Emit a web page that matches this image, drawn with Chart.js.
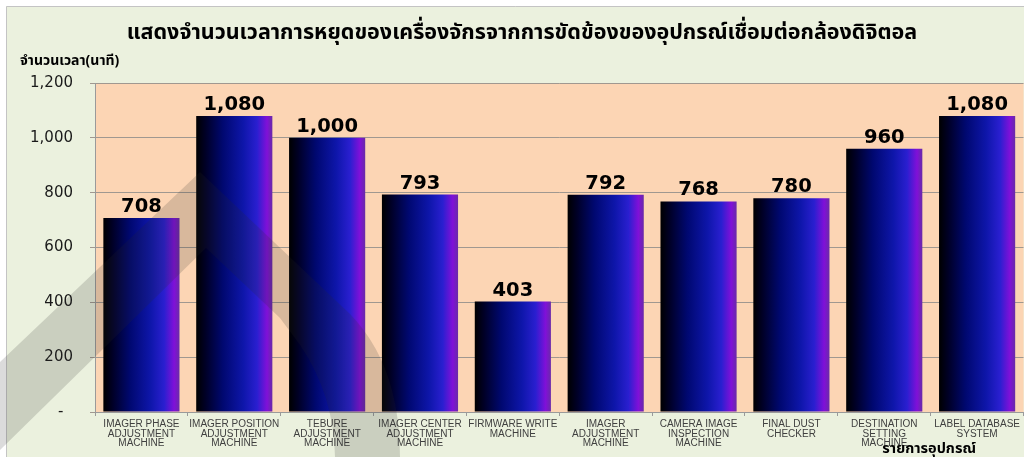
<!DOCTYPE html>
<html>
<head>
<meta charset="utf-8">
<script src="https://cdn.jsdelivr.net/npm/chart.js@4/dist/chart.umd.min.js"></script>
<style>
html,body{margin:0;padding:0;background:#fff;}
#wrap{width:1024px;height:457px;position:relative;}
</style>
</head>
<body>
<div id="wrap"><canvas id="c" width="1024" height="457"></canvas></div>
<script>
// ---- data ----
const chartTitle = "แสดงจำนวนเวลาการหยุดของเครื่องจักรจากการขัดข้องของอุปกรณ์เชื่อมต่อกล้องดิจิตอล";
const yAxisTitle = "จำนวนเวลา(นาที)";
const xAxisTitle = "รายการอุปกรณ์";
const categories = [
  ["IMAGER PHASE", "ADJUSTMENT", "MACHINE"],
  ["IMAGER POSITION", "ADJUSTMENT", "MACHINE"],
  ["TEBURE", "ADJUSTMENT", "MACHINE"],
  ["IMAGER CENTER", "ADJUSTMENT", "MACHINE"],
  ["FIRMWARE WRITE", "MACHINE"],
  ["IMAGER", "ADJUSTMENT", "MACHINE"],
  ["CAMERA IMAGE", "INSPECTION", "MACHINE"],
  ["FINAL DUST", "CHECKER"],
  ["DESTINATION", "SETTING", "MACHINE"],
  ["LABEL DATABASE", "SYSTEM"]
];
const downtimeMinutes = [708, 1080, 1000, 793, 403, 792, 768, 780, 960, 1080];
const yMin = 0, yMax = 1200, yStep = 200;

const BAR_PCT = 0.82;
const thaiFont = "Tahoma, 'Noto Sans Thai', 'Noto Sans', 'DejaVu Sans', sans-serif";

function fmt(v){ return v.toLocaleString('en-US'); }

function barGradient(ctx){
  const chart = ctx.chart;
  const xs = chart.scales.x;
  if (!xs || !chart.chartArea) return '#1a1ab0';
  const i = ctx.dataIndex;
  const cx = xs.getPixelForValue(i);
  const half = (xs.width / categories.length) * BAR_PCT / 2;
  const g = chart.ctx.createLinearGradient(cx - half, 0, cx + half, 0);
  g.addColorStop(0, '#000000');
  g.addColorStop(0.12, '#000026');
  g.addColorStop(0.35, '#000870');
  g.addColorStop(0.62, '#0e16aa');
  g.addColorStop(0.8, '#2a1fd0');
  g.addColorStop(0.93, '#8010d8');
  g.addColorStop(1, '#6a2aa8');
  return g;
}

const bgPlugin = {
  id: 'bg',
  beforeDraw(chart){
    const c = chart.ctx, a = chart.chartArea;
    c.save();
    c.fillStyle = '#ffffff';
    c.fillRect(0, 0, chart.width, chart.height);
    c.fillStyle = '#ebf1de';
    c.fillRect(6, 6, chart.width - 6, chart.height - 6);
    c.strokeStyle = '#c4c4c4';
    c.lineWidth = 1;
    c.beginPath();
    c.moveTo(6.5, chart.height); c.lineTo(6.5, 6.5); c.lineTo(chart.width, 6.5);
    c.stroke();
    c.fillStyle = '#fcd5b4';
    c.fillRect(a.left, a.top, a.right - a.left, a.bottom - a.top);
    c.restore();
  }
};

const labelPlugin = {
  id: 'labels',
  afterDatasetsDraw(chart){
    const c = chart.ctx;
    const meta = chart.getDatasetMeta(0);
    c.save();
    c.fillStyle = '#000000';
    c.font = "bold 19.5px 'DejaVu Sans', Arial, sans-serif";
    c.textAlign = 'center';
    c.textBaseline = 'alphabetic';
    meta.data.forEach((bar, i) => {
      c.fillText(fmt(downtimeMinutes[i]), bar.x, bar.y - 6);
    });
    c.restore();
  },
  afterDraw(chart){
    const c = chart.ctx;
    c.save();
    // titles
    c.fillStyle = '#000000';
    c.textBaseline = 'middle';
    c.textAlign = 'center';
    c.font = "bold 21.5px " + thaiFont;
    c.fillText(chartTitle, 522, 35);
    c.textAlign = 'left';
    c.font = "bold 14px " + thaiFont;
    c.fillText(yAxisTitle, 20, 62);
    c.textAlign = 'right';
    c.font = "bold 14.5px " + thaiFont;
    c.fillText(xAxisTitle, 976, 450);
    // watermark band
    c.fillStyle = 'rgba(40,40,40,0.17)';
    c.beginPath();
    c.moveTo(0, 362);
    c.lineTo(200, 172);
    c.lineTo(350, 314);
    c.quadraticCurveTo(380, 345, 392, 390);
    c.quadraticCurveTo(400, 420, 400, 457);
    c.lineTo(335, 457);
    c.quadraticCurveTo(334, 395, 300, 345);
    c.lineTo(280, 318);
    c.lineTo(206, 248);
    c.lineTo(0, 450);
    c.closePath();
    c.fill();
    c.restore();
  }
};

new Chart(document.getElementById('c'), {
  type: 'bar',
  data: {
    labels: categories,
    datasets: [{
      data: downtimeMinutes,
      backgroundColor: barGradient,
      borderWidth: 0,
      categoryPercentage: 1,
      barPercentage: BAR_PCT
    }]
  },
  options: {
    responsive: false,
    animation: false,
    events: [],
    layout: { padding: { top: 83, left: 0, right: 0, bottom: 0 } },
    plugins: { legend: { display: false }, tooltip: { enabled: false }, title: { display: false } },
    scales: {
      x: {
        offset: true,
        grid: { drawOnChartArea: false, drawTicks: true, tickLength: 4, color: '#9a9a9a', offset: true },
        border: { color: '#9a9a9a' },
        ticks: {
          color: '#404040',
          padding: 4,
          maxRotation: 0,
          autoSkip: false,
          font: { family: "'Liberation Sans', Arial, sans-serif", size: 10, lineHeight: 0.92 }
        },
        afterFit(s){ s.height = 45; }
      },
      y: {
        min: yMin, max: yMax,
        grid: { color: '#a09890', tickLength: 5, drawTicks: true },
        border: { color: '#9a9a9a' },
        ticks: {
          stepSize: yStep,
          color: '#1a1a1a',
          padding: 17,
          font: { family: "'DejaVu Sans', Arial, sans-serif", size: 15 },
          callback: (v) => v === 0 ? '-  ' : fmt(v)
        },
        afterFit(s){ s.width = 95; }
      }
    }
  },
  plugins: [bgPlugin, labelPlugin]
});
</script>
</body>
</html>
